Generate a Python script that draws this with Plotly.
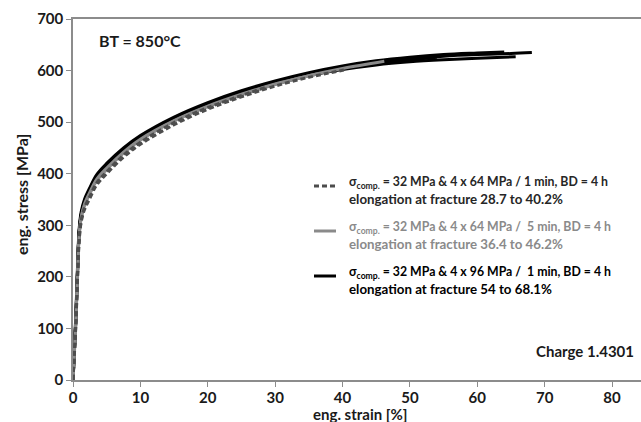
import plotly.graph_objects as go

# ---- data ----
strain_grid = [0, 0.4, 0.7, 0.9, 1.2, 1.7, 2.5, 3.5, 5, 7.5, 10, 15, 20, 25, 30, 35, 40, 45, 50, 55, 60, 65]

black_a_strain = strain_grid[:22] + [68.1]
black_a_stress = [0, 115, 225, 285, 320, 346, 370, 395, 417, 447, 471, 507, 535, 557, 577, 593, 606, 616, 623, 628, 631, 633, 635]
black_b_strain = strain_grid[:21] + [64.0]
black_b_stress = [0, 120, 230, 290, 325, 350, 373, 398, 420, 450, 474, 510, 538, 561, 580, 596, 609, 619, 626, 631, 634, 636]
black_c_strain = strain_grid[:21] + [65.7]
black_c_stress = [0, 110, 220, 282, 318, 344, 367, 392, 414, 444, 468, 504, 532, 554, 574, 590, 602, 611, 617, 621, 624, 627]
black_d_strain = strain_grid[:19] + [54.0]
black_d_stress = [0, 112, 222, 284, 319, 345, 368, 393, 415, 445, 469, 505, 533, 555, 575, 591, 604, 614, 621, 626]

gray_e_strain = strain_grid[:17] + [46.2]
gray_e_stress = [0, 105, 215, 275, 312, 338, 361, 386, 408, 440, 465, 502, 530, 553, 573, 590, 604, 618]
gray_f_strain = strain_grid[:15] + [36.4]
gray_f_stress = [0, 108, 218, 278, 315, 341, 364, 389, 411, 442, 467, 503, 531, 554, 574, 594]

dash_g_strain = strain_grid[:16] + [40.2]
dash_g_stress = [0, 100, 205, 265, 305, 330, 352, 378, 400, 432, 457, 495, 525, 549, 570, 587, 601]
dash_h_strain = strain_grid[:13] + [28.7]
dash_h_stress = [0, 103, 210, 270, 308, 334, 356, 382, 404, 436, 461, 499, 528, 568]

x_ticks = [0, 10, 20, 30, 40, 50, 60, 70, 80]
y_ticks = [0, 100, 200, 300, 400, 500, 600, 700]

legend_line1 = ["σ<sub>comp.</sub> = 32 MPa & 4 x 64 MPa / 1 min, BD = 4 h",
                "σ<sub>comp.</sub> = 32 MPa & 4 x 64 MPa /  5 min, BD = 4 h",
                "σ<sub>comp.</sub> = 32 MPa & 4 x 96 MPa /  1 min, BD = 4 h"]
legend_line2 = ["elongation at fracture 28.7 to 40.2%",
                "elongation at fracture 36.4 to 46.2%",
                "elongation at fracture 54 to 68.1%"]

BLACK = "#000000"
GRAY = "#8a8a8a"
DARK = "#4d4d4d"
FONT = "Lato"
TXT = "#1a1a1a"

W, H = 641, 422
ML, MR, MT, MB = 73, 0, 19, 42

def px(xp):
    return (xp - ML) / (W - ML - MR)

def py(yp):
    return (H - MB - yp) / (H - MT - MB)

fig = go.Figure()

for xs, ys in [(black_a_strain, black_a_stress), (black_b_strain, black_b_stress),
               (black_c_strain, black_c_stress), (black_d_strain, black_d_stress)]:
    fig.add_trace(go.Scatter(x=xs, y=ys, mode="lines", line=dict(color=BLACK, width=3, shape="spline"),
                             showlegend=False, hoverinfo="skip"))
for xs, ys in [(gray_e_strain, gray_e_stress), (gray_f_strain, gray_f_stress)]:
    fig.add_trace(go.Scatter(x=xs, y=ys, mode="lines", line=dict(color=GRAY, width=3, shape="spline"),
                             showlegend=False, hoverinfo="skip"))
for xs, ys in [(dash_g_strain, dash_g_stress), (dash_h_strain, dash_h_stress)]:
    fig.add_trace(go.Scatter(x=xs, y=ys, mode="lines",
                             line=dict(color=DARK, width=3, dash="5px,3px", shape="spline"),
                             showlegend=False, hoverinfo="skip"))

# legend drawn manually
leg_colors = [DARK, GRAY, BLACK]
leg_text_colors = ["#262626", "#8a8a8a", "#000000"]
leg_dash = ["5px,3px", "solid", "solid"]
leg_y1 = [182, 227, 272]
for i in range(3):
    ysym = leg_y1[i] + 4
    fig.add_shape(type="line", xref="paper", yref="paper",
                  x0=px(314), x1=px(336), y0=py(ysym), y1=py(ysym),
                  line=dict(color=leg_colors[i], width=3, dash=leg_dash[i]))
    fig.add_annotation(xref="paper", yref="paper", x=px(347), y=py(leg_y1[i]),
                       text="<b>" + legend_line1[i] + "</b>", showarrow=False,
                       xanchor="left", yanchor="middle",
                       font=dict(family=FONT, size=12.3, color=leg_text_colors[i]))
    fig.add_annotation(xref="paper", yref="paper", x=px(347), y=py(leg_y1[i] + 17),
                       text="<b>" + legend_line2[i] + "</b>", showarrow=False,
                       xanchor="left", yanchor="middle",
                       font=dict(family=FONT, size=13.3, color=leg_text_colors[i]))

fig.add_annotation(xref="paper", yref="paper", x=px(97), y=py(41), text="<b>BT = 850°C</b>",
                   showarrow=False, xanchor="left", yanchor="middle",
                   font=dict(family=FONT, size=16, color=TXT))
fig.add_annotation(xref="paper", yref="paper", x=px(636), y=py(351), text="<b>Charge 1.4301</b>",
                   showarrow=False, xanchor="right", yanchor="middle",
                   font=dict(family=FONT, size=15, color=TXT))

# axis titles
fig.add_annotation(xref="paper", yref="paper", x=px(360), y=py(414), text="<b>eng. strain [%]</b>",
                   showarrow=False, xanchor="center", yanchor="middle", borderpad=0,
                   font=dict(family=FONT, size=15, color=TXT))
fig.add_annotation(xref="paper", yref="paper", x=px(21), y=py(195), text="<b>eng. stress [MPa]</b>",
                   showarrow=False, xanchor="center", yanchor="middle", textangle=-90,
                   font=dict(family=FONT, size=16, color=TXT))

axis_common = dict(showgrid=False, zeroline=False, showline=True, linecolor="#8c8c8c", linewidth=1.5,
                   ticks="outside", ticklen=5, tickcolor="#8c8c8c", tickwidth=1, automargin=False,
                   tickfont=dict(family=FONT, size=15, color=TXT))

fig.update_xaxes(range=[0, 84.3], tickvals=x_ticks, ticktext=["<b>%d</b>" % v for v in x_ticks],
                 mirror=True, ticklabelstandoff=-2, **axis_common)
fig.update_yaxes(range=[0, 700], tickvals=y_ticks, ticktext=["<b>%d</b>" % v for v in y_ticks],
                 **axis_common)

fig.update_layout(width=W, height=H, margin=dict(l=ML, r=MR, t=MT, b=MB, autoexpand=False),
                  plot_bgcolor="white", paper_bgcolor="white", showlegend=False)

fig.write_html("out.html", config={"displayModeBar": False},
               post_script="document.body.style.margin='0';document.body.style.overflow='hidden';")
